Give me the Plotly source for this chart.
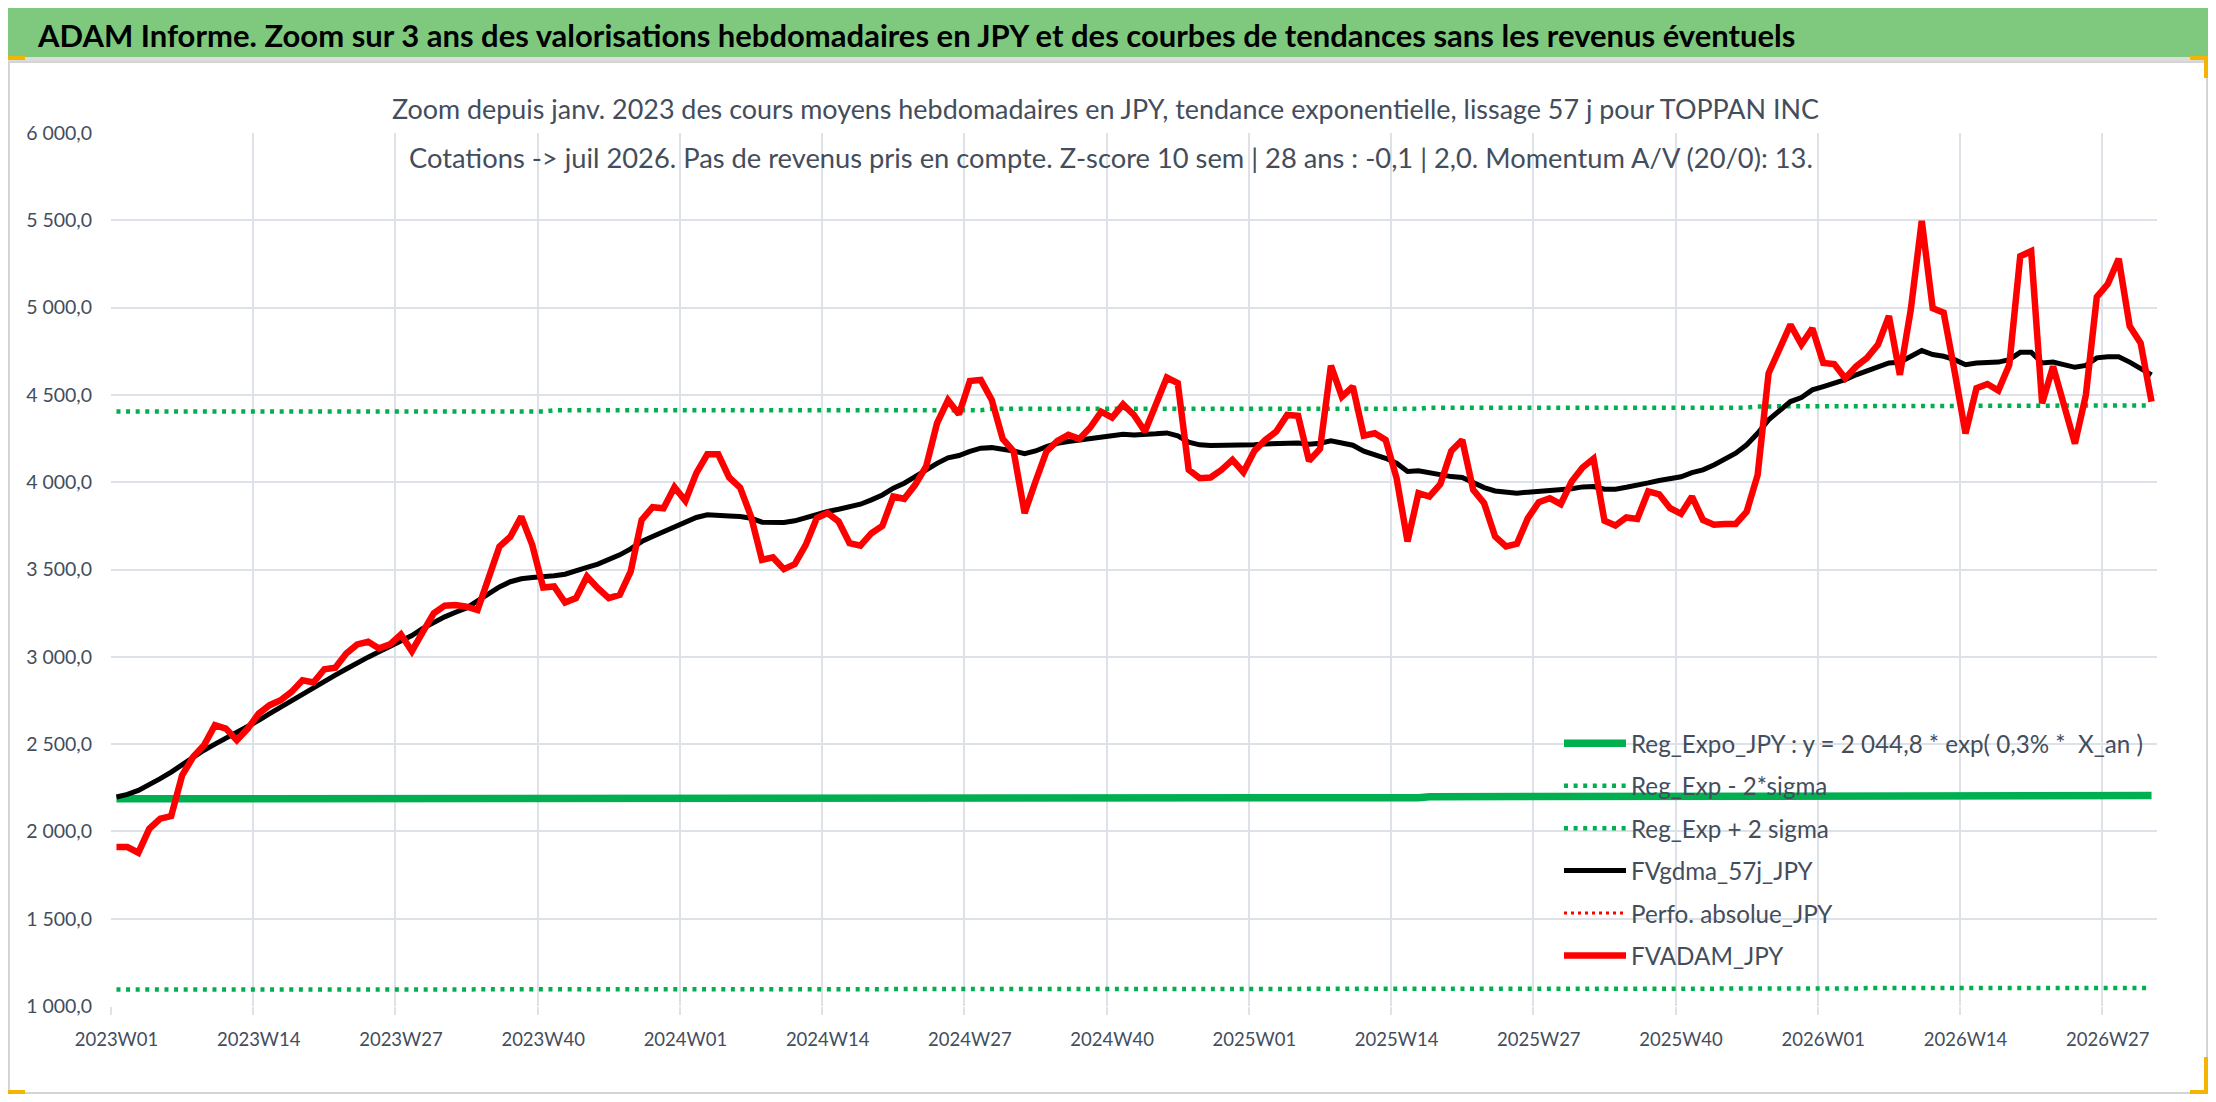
import plotly.graph_objects as go

# ---------------- data ----------------
weeks = [f"{yr}W{w:02d}" for yr, n in ((2023, 52), (2024, 52), (2025, 52), (2026, 31)) for w in range(1, n + 1)]

fvadam_jpy = [
    1910, 1910, 1878, 2015, 2073, 2088, 2321, 2426, 2493, 2608,
    2589, 2522, 2589, 2675, 2723, 2751, 2799, 2866, 2853, 2929,
    2937, 3019, 3071, 3086, 3048, 3071, 3128, 3032, 3143, 3249,
    3293, 3296, 3287, 3268, 3449, 3631, 3688, 3803,
    3641, 3397, 3403, 3311, 3336, 3460, 3393, 3336, 3355, 3489,
    3784, 3857, 3851, 3971, 3893, 4052, 4160, 4160, 4027, 3969,
    3803, 3555, 3569, 3502, 3531, 3641, 3794, 3823, 3775, 3651,
    3637, 3708, 3750, 3918, 3905, 3985, 4090, 4338, 4470,
    4389, 4580, 4586, 4471, 4248, 4176, 3823, 4004, 4176, 4237,
    4271, 4248, 4313, 4404, 4370, 4446, 4385, 4290, 4443, 4599,
    4567, 4071, 4023, 4027, 4071, 4128, 4057, 4179, 4242, 4290,
    4385, 4380, 4122, 4191, 4668, 4490, 4548, 4267,
    4280, 4242, 4023, 3660, 3937, 3918, 3989, 4179, 4242, 3956,
    3880, 3689, 3632, 3647, 3794, 3886, 3908, 3874, 4004, 4084,
    4134, 3779, 3752, 3798, 3790, 3947, 3931, 3851, 3819, 3918,
    3784, 3756, 3761, 3761, 3832, 4042, 4624, 4767, 4902,
    4788, 4881, 4683, 4677, 4596, 4663, 4712, 4788, 4952, 4615,
    4990, 5496, 4996, 4971, 4635, 4279, 4538, 4562, 4525, 4673,
    5294, 5323, 4452, 4663, 4442, 4221, 4500, 5062, 5135, 5279,
    4894, 4798, 4462,
]

fvgdma_57j_jpy = [
    2197, 2212, 2235, 2265, 2302, 2340, 2382, 2425, 2465, 2500,
    2532, 2565, 2598, 2636, 2675, 2713, 2751, 2787, 2822, 2860,
    2895, 2930, 2966, 2998, 3029, 3058, 3090, 3122, 3163, 3198,
    3229, 3255, 3280, 3320, 3363, 3400, 3430, 3447,
    3454, 3456, 3464, 3473, 3489, 3512, 3531, 3554, 3584, 3618,
    3660, 3689, 3718, 3746, 3775, 3798, 3813, 3813, 3807, 3803,
    3794, 3771, 3769, 3769, 3779, 3798, 3817, 3832, 3845, 3857,
    3874, 3899, 3927, 3966, 3994, 4032, 4071, 4108, 4140,
    4153, 4176, 4195, 4198, 4191, 4179, 4164, 4179, 4204, 4223,
    4233, 4242, 4252, 4263, 4265, 4275, 4271, 4271, 4277, 4282,
    4265, 4229, 4214, 4210, 4210, 4210, 4210, 4214, 4219, 4221,
    4225, 4225, 4217, 4223, 4237, 4227, 4212, 4178,
    4160, 4137, 4109, 4061, 4065, 4052, 4038, 4032, 4027, 3994,
    3969, 3950, 3941, 3937, 3943, 3947, 3952, 3952, 3962, 3973,
    3975, 3960, 3960, 3971, 3981, 3996, 4010, 4017, 4031, 4055,
    4071, 4099, 4132, 4166, 4214, 4280, 4357, 4414, 4462,
    4485, 4529, 4548, 4567, 4587, 4615, 4638, 4663, 4683, 4687,
    4721, 4754, 4731, 4721, 4702, 4673, 4683, 4688, 4688, 4702,
    4744, 4744, 4683, 4688, 4673, 4658, 4669, 4712, 4719, 4719,
    4688, 4654, 4615,
]

reg_expo_jpy = [2187] * 60 + [2193] * 60 + [2199] * 60 + [2205] * 7
reg_exp_minus_2sigma = [1094] * 60 + [1097] * 60 + [1100] * 40 + [1103] * 27
reg_exp_plus_2sigma = [4405] * 40 + [4412] * 40 + [4420] * 40 + [4427] * 30 + [4434] * 20 + [4440] * 17
perfo_absolue_jpy = [None] * len(weeks)

tick_step = 13  # one label every 13 weeks: 2023W01, 2023W14, ...

# ---------------- layout helpers ----------------
# the page body has an 8px margin, so the figure is 16px smaller than the window
OFF = 8
W, H = 2216 - 2 * OFF, 1102 - 2 * OFF
ML, MR, MT, MB = 111 - OFF, 2216 - 2157 - OFF, 133 - OFF, 1102 - 1006 - OFF
PW, PH = W - ML - MR, H - MT - MB


def px(x):  # screen x -> paper
    return (x - OFF - ML) / PW


def py(y):  # screen y -> paper
    return (H - MB - (y - OFF)) / PH


FONT = "Lato, Roboto, 'Noto Sans', sans-serif"
TXT = "#434d5c"
GREEN = "#00B050"
DOT = "4px,5.6px"

fig = go.Figure()

fig.add_trace(go.Scatter(x=weeks, y=reg_expo_jpy, mode="lines", name="Reg_Expo_JPY : y = 2 044,8 * exp( 0,3% *  X_an )",
                         line=dict(color=GREEN, width=7.5), legendgroup="a"))
fig.add_trace(go.Scatter(x=weeks, y=reg_exp_minus_2sigma, mode="lines", name="Reg_Exp - 2*sigma",
                         line=dict(color=GREEN, width=4.5, dash=DOT), legendgroup="b"))
fig.add_trace(go.Scatter(x=weeks, y=reg_exp_plus_2sigma, mode="lines", name="Reg_Exp + 2 sigma",
                         line=dict(color=GREEN, width=4.5, dash=DOT), legendgroup="c"))
fig.add_trace(go.Scatter(x=weeks, y=fvgdma_57j_jpy, mode="lines", name="FVgdma_57j_JPY",
                         line=dict(color="#000000", width=5), legendgroup="d"))
fig.add_trace(go.Scatter(x=weeks, y=perfo_absolue_jpy, mode="lines", name="Perfo. absolue_JPY",
                         line=dict(color="#FF0000", width=3, dash="3px,4px"), legendgroup="e"))
fig.add_trace(go.Scatter(x=weeks, y=fvadam_jpy, mode="lines", name="FVADAM_JPY",
                         line=dict(color="#FF0000", width=6.5), legendgroup="f"))


def rect(x0, x1, y0, y1, color, layer="above"):
    return dict(type="rect", xref="paper", yref="paper", x0=px(x0), x1=px(x1), y0=py(y1), y1=py(y0),
                fillcolor=color, line=dict(width=0), layer=layer)


YEL = "#F2B600"
shapes = [
    rect(0, 2213, 2, 57, "#7FC97F"),          # green title band
    rect(0, 2216, 0, 2, "#8a9a8a"),           # top dark border
    rect(0, 2213, 57, 62, "#dcdcdc"),         # gray band under title
    dict(type="rect", xref="paper", yref="paper", x0=px(9), x1=px(2207), y0=py(1093), y1=py(62),
         fillcolor="rgba(0,0,0,0)", line=dict(color="#d4d4d4", width=2), layer="above"),
    rect(385, 1825, 84, 178, "white", layer="between"),   # title box hides grid
    rect(8, 25, 56, 60, YEL),
    rect(2190, 2208, 56, 60, YEL),
    rect(2204, 2208, 56, 78, YEL),
    rect(8, 25, 1090, 1094, YEL),
    rect(2190, 2208, 1090, 1094, YEL),
    rect(2204, 2208, 1057, 1094, YEL),
]

annotations = [
    dict(text="<b>ADAM Informe. Zoom sur 3 ans des valorisations hebdomadaires en JPY et des courbes de tendances sans les revenus éventuels</b>",
         xref="paper", yref="paper", x=px(35), y=py(35), xanchor="left", yanchor="middle", showarrow=False,
         font=dict(family=FONT, size=31, color="#000000")),
    dict(text="Zoom depuis janv. 2023 des cours moyens hebdomadaires en JPY, tendance exponentielle, lissage 57 j pour TOPPAN INC",
         xref="paper", yref="paper", x=px(1105), y=py(108), xanchor="center", yanchor="middle", showarrow=False,
         font=dict(family=FONT, size=26.9, color=TXT)),
    dict(text="Cotations -> juil 2026. Pas de revenus pris en compte. Z-score 10 sem | 28 ans : -0,1 | 2,0. Momentum A/V (20/0): 13.",
         xref="paper", yref="paper", x=px(1111), y=py(157), xanchor="center", yanchor="middle", showarrow=False,
         font=dict(family=FONT, size=27.3, color=TXT)),
]

fig.update_layout(
    width=W, height=H,
    margin=dict(l=ML, r=MR, t=MT, b=MB, pad=0, autoexpand=False),
    paper_bgcolor="white", plot_bgcolor="white",
    separators=", ",
    font=dict(family=FONT, color=TXT),
    showlegend=True,
    legend=dict(x=px(1559), y=py(721), xanchor="left", yanchor="top", bgcolor="rgba(0,0,0,0)",
                font=dict(family=FONT, size=24.2, color=TXT), itemwidth=62, tracegroupgap=8,
                traceorder="grouped"),
    shapes=shapes,
    annotations=annotations,
    xaxis=dict(type="category", range=[-0.5, len(weeks) - 0.5], tickmode="linear", tick0=0, dtick=tick_step,
               tickson="boundaries", showgrid=True, gridcolor="#dde1e8", gridwidth=2,
               ticks="outside", ticklen=8, tickcolor="#dde1e8", tickwidth=2, showline=False, zeroline=False,
               tickfont=dict(family=FONT, size=18.5, color=TXT), tickangle=0, ticklabelstandoff=20,
               automargin=False),
    yaxis=dict(range=[1000, 6000], dtick=500, tick0=1000, tickformat=",.1f", showgrid=True,
               gridcolor="#dde1e8", gridwidth=2, zeroline=False, showline=False,
               ticks="outside", ticklen=14, tickcolor="rgba(0,0,0,0)",
               tickfont=dict(family=FONT, size=19.5, color=TXT), automargin=False),
)

fig.write_html("out.html")
